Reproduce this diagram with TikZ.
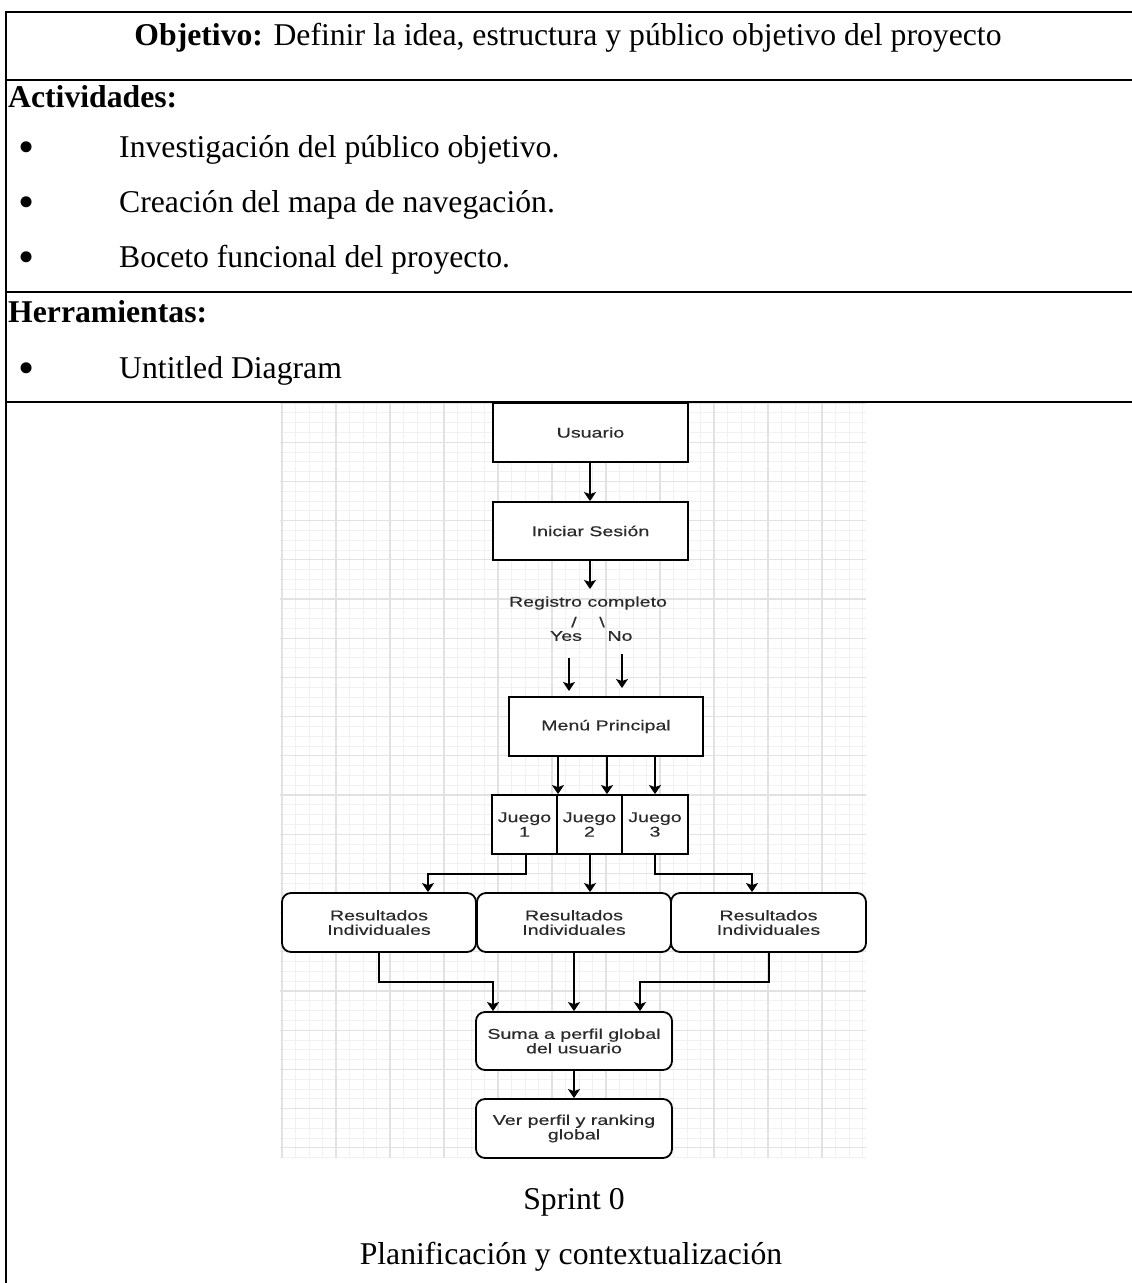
\documentclass[tikz,border=0pt]{standalone}
\usepackage{fontspec}
\setmainfont{Liberation Serif}
\newfontfamily\diagfont[FakeStretch=1.38,FakeBold=0.4]{Liberation Sans}
\usetikzlibrary{arrows.meta}
\definecolor{dtext}{HTML}{2A2A2A}
\definecolor{gridmaj}{HTML}{E2E2E2}
\definecolor{gridmin}{HTML}{F1F1F1}
\tikzset{
  tabline/.style={line width=2pt, black},
  ttext/.style={inner sep=0pt, font=\fontsize{31.7}{37}\selectfont},
  bullettext/.style={inner sep=0pt, font=\fontsize{46}{46}\selectfont},
  dbox/.style={draw=black, line width=1.8pt, fill=white, inner sep=0pt, font=\diagfont\fontsize{14.2}{14.5}\selectfont, text=dtext, align=center},
  rbox/.style={dbox, rounded corners=9pt},
  dlabel/.style={inner sep=0pt, font=\diagfont\fontsize{14.2}{14.5}\selectfont, text=dtext},
  conn/.style={line width=1.7pt, black, -{Stealth[length=9pt,width=12pt,inset=2pt]}},
}
\begin{document}
\begin{tikzpicture}[x=1pt,y=-1pt]
\useasboundingbox (0,0) rectangle (1132,1283);
% ---------- grid background of the diagram picture
\begin{scope}
\clip (280,403) rectangle (866,1158);
\foreach \i in {0,...,80} {
  \draw[gridmin, line width=0.8pt] (280,{403+9.8*\i}) -- (866,{403+9.8*\i});
}
\foreach \i in {0,...,45} {
  \draw[gridmin, line width=0.8pt] ({282+13.5*\i},403) -- ({282+13.5*\i},1158);
}
\foreach \i in {0,...,20} {
  \draw[gridmaj, line width=1.2pt] (280,{403+39.2*\i}) -- (866,{403+39.2*\i});
}
\foreach \i in {0,...,12} {
  \draw[gridmaj, line width=1.2pt] ({282+54*\i},403) -- ({282+54*\i},1158);
}
\end{scope}
% ---------- table
\draw[tabline] (6,12) -- (1132,12);
\draw[tabline] (6,80) -- (1132,80);
\draw[tabline] (6,292) -- (1132,292);
\draw[tabline] (6,402) -- (1132,402);
\draw[tabline] (6,11) -- (6,1283);
\node[ttext, anchor=base] (obj) at (568,45) {\textbf{Objetivo:} Definir la idea, estructura y público objetivo del proyecto};
\node[ttext, anchor=base west] (act) at (8,107) {\textbf{Actividades:}};
\node[bullettext] (b1) at (27,152) {•};
\node[ttext, anchor=base west] (a1) at (119,157) {Investigación del público objetivo.};
\node[bullettext] (b2) at (27,207) {•};
\node[ttext, anchor=base west] (a2) at (119,212) {Creación del mapa de navegación.};
\node[bullettext] (b3) at (27,262) {•};
\node[ttext, anchor=base west] (a3) at (119,267) {Boceto funcional del proyecto.};
\node[ttext, anchor=base west] (her) at (8,322) {\textbf{Herramientas:}};
\node[bullettext] (b4) at (27,373) {•};
\node[ttext, anchor=base west] (h1) at (119,378) {Untitled Diagram};
\node[ttext, anchor=base] (sp) at (574,1209) {Sprint 0};
\node[ttext, anchor=base] (pl) at (571,1264) {Planificación y contextualización};
% ---------- diagram
\node[dbox, minimum width=195pt, minimum height=59pt] (usu) at (590.5,432.5) {Usuario};
\node[dbox, minimum width=195pt, minimum height=58pt] (ini) at (590.5,531) {Iniciar Sesión};
\coordinate (iniEnd) at (590,589);
\node[dlabel] (reg) at (588,603) {Registro completo};
\node[dlabel] (sl) at (574,622) {/};
\node[dlabel] (bs) at (602,622) {\textbackslash};
\node[dlabel] (yes) at (566,636) {Yes};
\node[dlabel] (no) at (620,636) {No};
\coordinate (yesS) at (569,658);
\coordinate (yesE) at (569,691);
\coordinate (noS) at (622,654);
\coordinate (noE) at (622,688);
\node[dbox, minimum width=194pt, minimum height=59pt] (menu) at (606,726.5) {Menú Principal};
\node[dbox, minimum width=65pt, minimum height=59pt] (j1) at (524.5,824.5) {Juego\\1};
\node[dbox, minimum width=65pt, minimum height=59pt] (j2) at (589.5,824.5) {Juego\\2};
\node[dbox, minimum width=66pt, minimum height=59pt] (j3) at (655,824.5) {Juego\\3};
\node[rbox, minimum width=194pt, minimum height=59pt] (r1) at (379,922.5) {Resultados\\Individuales};
\node[rbox, minimum width=194pt, minimum height=59pt] (r2) at (574,922.5) {Resultados\\Individuales};
\node[rbox, minimum width=195pt, minimum height=59pt] (r3) at (768.5,922.5) {Resultados\\Individuales};
\node[rbox, minimum width=196pt, minimum height=58pt] (suma) at (574,1041) {Suma a perfil global\\del usuario};
\node[rbox, minimum width=196pt, minimum height=59pt] (ver) at (574,1128.5) {Ver perfil y ranking\\global};
% connectors
\draw[conn] (usu.south -| 590,0) -- (ini.north -| 590,0);
\draw[conn] (ini.south -| 590,0) -- (iniEnd);
\draw[conn] (yesS) -- (yesE);
\draw[conn] (noS) -- (noE);
\draw[conn] (menu.south -| 558,0) -- (j1.north -| 558,0);
\draw[conn] (menu.south -| 607,0) -- (j2.north -| 607,0);
\draw[conn] (menu.south -| 655,0) -- (j3.north -| 655,0);
\draw[conn] (j1.south -| 526,0) -- (526,874) -- (428,874) -- (r1.north -| 428,0);
\draw[conn] (j2.south -| 590,0) -- (r2.north -| 590,0);
\draw[conn] (j3.south -| 655,0) -- (655,874) -- (752,874) -- (r3.north -| 752,0);
\draw[conn] (r1.south -| 379,0) -- (379,982) -- (493,982) -- (suma.north -| 493,0);
\draw[conn] (r2.south -| 574,0) -- (suma.north -| 574,0);
\draw[conn] (r3.south -| 769,0) -- (769,982) -- (640,982) -- (suma.north -| 640,0);
\draw[conn] (suma) -- (ver);
\end{tikzpicture}
\end{document}
